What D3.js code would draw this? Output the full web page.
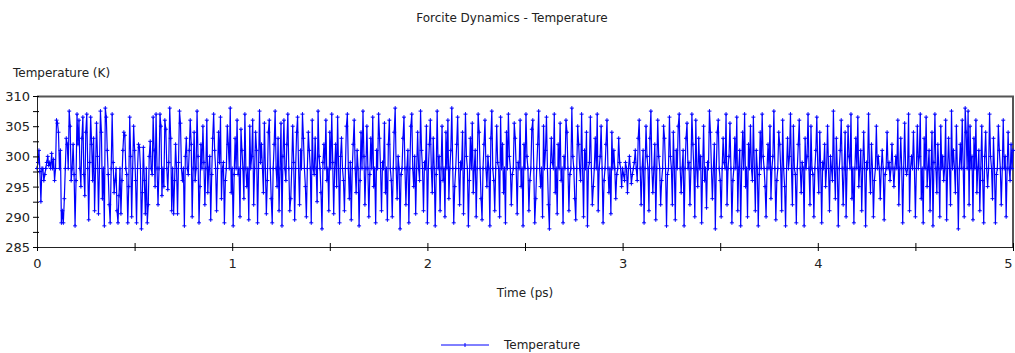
<!DOCTYPE html>
<html>
<head>
<meta charset="utf-8">
<script src="https://cdn.jsdelivr.net/npm/d3@7"></script>
<style>
  body { margin: 0; background: #fff; }
  text { font-family: "DejaVu Sans", Verdana, sans-serif; fill: #222; }
</style>
</head>
<body>
<svg id="chart" width="1015" height="353"></svg>
<script>
const temperature = [
  298, 299, 301, 297.5, 292.5, 298, 298, 296, 297, 298, 299, 300, 298.5, 299, 298, 300.5, 298, 299.5, 296, 298, 306, 305.5, 304, 298, 301,
  289, 291, 289, 293, 298, 303, 302, 298, 307.5, 305, 296, 298, 302, 297, 288.5, 296, 307, 302, 306, 298, 295, 303, 306.5, 297, 293.5,
  304, 307, 298, 289.5, 299, 306.5, 302, 296, 303, 291, 298, 305.5, 300, 290.5, 298, 307.5, 304, 293, 298, 288.5, 308, 306.5, 301, 297, 292,
  289, 298, 307, 299, 294, 296, 298, 291, 289, 293.5, 298, 290.5, 296, 301, 304, 303.5, 298, 297, 289, 295, 306.5, 300, 290, 298, 305,
  301, 296, 289, 298, 302, 301.5, 298, 288, 294, 301.5, 296, 290.5, 298, 289, 292, 300, 302.5, 298, 297, 306.5, 301, 295, 307, 298, 292,
  298, 307, 305, 293.5, 298, 295, 306, 304.5, 298, 294.5, 299, 308, 303, 291, 298, 290.5, 296, 302, 298, 290.5, 299, 307.5, 305.5, 298, 296,
  298, 288.5, 300, 303, 298, 297, 301, 306, 302, 290, 298, 304, 296, 298, 307.5, 300, 289, 295, 302, 298, 305, 299, 292, 298, 306,
  294, 298, 300, 289.5, 297, 303, 307, 301, 298, 291, 298, 304, 299, 306.5, 293, 298, 299, 289, 296, 298, 305, 302, 298, 308, 294,
  298, 288.5, 297, 303, 298, 306, 297, 298, 290, 304.5, 301, 298, 293, 307, 298, 295, 298, 289.5, 305, 298, 300, 306, 292, 298, 304,
  301, 289, 298, 307.5, 299, 302, 298, 294, 305.5, 298, 290.5, 296, 304, 306, 298, 293, 289, 298, 302, 307.5, 298, 295, 303, 291, 298,
  305.5, 288.5, 300, 306, 298, 296, 302, 307, 298, 291, 293, 298, 305, 299, 289.5, 298, 304, 306.5, 298, 292, 301, 298, 307, 303, 298,
  295, 290, 298, 304, 301, 298, 289, 306, 298, 297, 303, 298, 292.5, 307.5, 300, 298, 294, 288, 299, 302, 298, 306, 296, 298, 291,
  304, 298, 307, 299, 290.5, 298, 302, 295, 306.5, 298, 289, 300, 303, 298, 296, 291, 298, 305, 307, 298, 293, 299, 289.5, 298, 302,
  306, 298, 294, 301, 298, 288.5, 296, 304, 298, 307.5, 300, 292, 298, 305, 298, 290, 297, 303, 298, 306.5, 295, 298, 289, 301, 298,
  307, 303, 298, 291, 299, 298, 305.5, 294, 298, 289.5, 302, 306, 298, 296, 290, 298, 304, 308, 298, 293, 300, 298, 288, 297, 298,
  303, 306.5, 298, 292, 298, 301, 289, 298, 305, 307, 298, 295, 300, 290.5, 298, 304, 298, 296, 307.5, 301, 298, 291, 299, 298, 305,
  289, 298, 302, 306, 298, 294, 303, 298, 288.5, 297, 307.5, 298, 300, 291, 298, 305, 296, 298, 290, 304, 298, 306, 293, 298, 301,
  308, 298, 289, 295, 298, 302, 306.5, 298, 292, 299, 298, 304, 290.5, 298, 307, 300, 298, 288.5, 296, 303, 298, 305.5, 294, 298, 301,
  290, 298, 307, 304, 298, 293, 289.5, 298, 302, 306, 298, 295, 300, 298, 288.5, 303, 307.5, 298, 296, 291, 298, 305, 299, 298, 290,
  306.5, 298, 302, 294, 298, 289, 304, 298, 307, 300, 298, 292, 297, 298, 305.5, 303, 298, 290.5, 299, 298, 306, 295, 298, 288.5, 302,
  298, 307, 300, 298, 291, 296, 298, 304.5, 306, 298, 289, 293, 298, 302, 307.5, 298, 295, 298, 290, 305, 298, 301, 306.5, 298, 292,
  288, 298, 303, 299, 298, 307, 294, 298, 290.5, 302, 298, 305.5, 296, 298, 289, 300, 298, 306, 304, 298, 291, 297, 298, 308, 300,
  298, 293, 289.5, 298, 305, 302, 298, 296, 307, 298, 290, 301, 298, 304, 288.5, 298, 299, 306.5, 298, 292, 295, 298, 303, 298, 307,
  291, 298, 300, 305, 298, 289, 296, 298, 302, 306, 298, 294, 298, 290.5, 304, 298, 301, 298, 293, 297, 298, 303, 299, 298, 295,
  298, 297, 296, 299, 298, 294, 298, 300, 298, 295.5, 297, 298, 299, 301, 298, 296, 303, 306, 298, 292, 298, 301, 289, 298, 305,
  300, 298, 291, 303, 307.5, 298, 294, 298, 302, 289.5, 298, 306, 300, 298, 292, 296, 298, 305, 303, 298, 288.5, 297, 298, 306.5, 300,
  298, 292, 304, 298, 289.5, 301, 298, 305, 307, 298, 294, 298, 301, 288.5, 298, 303, 305.5, 298, 299, 292, 298, 307, 302, 298, 290,
  306, 298, 295, 303, 298, 300, 289, 298, 305, 296, 298, 291.5, 299, 298, 307.5, 304, 298, 293, 298, 302, 288, 298, 304, 306, 298,
  296, 290, 298, 303, 299, 298, 307, 292, 298, 300, 305.5, 298, 289, 296, 298, 303, 298, 306.5, 291, 298, 301, 288.5, 298, 304, 298,
  307, 295, 298, 290, 302, 298, 305, 298, 296, 306.5, 298, 291, 301, 298, 288.5, 297, 304, 298, 307, 300, 298, 295, 290, 298, 302,
  298, 305, 293, 298, 300, 307.5, 298, 289.5, 296, 298, 304, 302, 298, 291, 306, 298, 295, 288.5, 298, 303, 298, 300, 307, 298, 292,
  305, 298, 297, 289, 298, 302, 306, 298, 294, 299, 298, 288.5, 303, 298, 300, 307, 298, 292, 305, 298, 297, 290, 298, 301, 306.5,
  298, 294, 304, 298, 289, 299, 298, 302, 295, 298, 305, 298, 291, 300, 298, 296, 307.5, 298, 293, 303, 298, 288.5, 298, 301, 306,
  298, 292, 298, 304, 290, 298, 305, 300, 298, 307, 293, 298, 289, 298, 303, 298, 306.5, 295, 298, 301, 291, 298, 304, 298, 288.5,
  299, 298, 307, 298, 294, 302, 298, 290, 296, 298, 305, 298, 300, 298, 293, 298, 301, 298, 289.5, 297, 298, 304, 298, 299, 296,
  298, 302, 298, 295, 298, 300, 298, 306, 292, 298, 303, 298, 289, 298, 305.5, 298, 297, 298, 307, 291, 298, 300, 298, 304, 298,
  290, 298, 305, 298, 300, 307, 293, 298, 289, 303, 298, 306.5, 295, 298, 301, 291, 298, 304, 288.5, 299, 307, 298, 294, 302, 298,
  290, 305, 298, 300, 296, 298, 306, 289.5, 298, 303, 298, 292, 307.5, 298, 301, 298, 294, 305, 298, 288, 298, 302, 298, 306, 298,
  290, 308, 304, 298, 307.5, 292, 305, 298, 300, 289.5, 303, 298, 306, 294, 298, 301, 291, 298, 305, 296, 289, 300, 304, 298, 295,
  298, 307, 300, 298, 293, 303, 298, 289, 297, 298, 305, 301, 298, 292, 298, 306, 298, 300, 290, 298, 304, 298, 296, 302, 298,
  301
];
const timeStep = 0.005; // ps between frames

const xTicks = [0, 1, 2, 3, 4, 5];
const xMinorTicks = [0.5, 1.5, 2.5, 3.5, 4.5];
const yTicks = [285, 290, 295, 300, 305, 310];
const yMinorTicks = [287.5, 292.5, 297.5, 302.5, 307.5];

const chartTitle = "Forcite Dynamics - Temperature";
const yTitle = "Temperature (K)";
const xTitle = "Time (ps)";
const seriesName = "Temperature";

const MARGIN = {TOP: 96, RIGHT: 2, BOTTOM: 106, LEFT: 37};
const WIDTH = 1015 - MARGIN.LEFT - MARGIN.RIGHT;
const HEIGHT = 353 - MARGIN.TOP - MARGIN.BOTTOM;
const BLUE = "#0000ff";

const points = temperature.map((v, i) => ({t: i * timeStep, v: v}));

const svg = d3.select("#chart");

// Title and axis titles
svg.append("text")
  .attr("x", 512).attr("y", 22)
  .attr("text-anchor", "middle")
  .style("font-size", "12px")
  .text(chartTitle);

svg.append("text")
  .attr("x", 13).attr("y", 77)
  .style("font-size", "12px")
  .text(yTitle);

svg.append("text")
  .attr("x", 525).attr("y", 297)
  .attr("text-anchor", "middle")
  .style("font-size", "12px")
  .text(xTitle);

const g = svg.append("g")
  .attr("transform", "translate(" + MARGIN.LEFT + "," + MARGIN.TOP + ")");

const xScale = d3.scaleLinear().domain([0, 5]).range([0, WIDTH]);
const yScale = d3.scaleLinear().domain([285, 310]).range([HEIGHT, 0]);

// Frame on top and right
g.append("path")
  .attr("d", "M0,0.5H" + WIDTH + "V" + HEIGHT)
  .attr("fill", "none")
  .attr("stroke", "#555")
  .attr("stroke-width", 2);

// Plot line
const valueline = d3.line()
  .x((d) => xScale(d.t))
  .y((d) => yScale(d.v));

g.append("path")
  .datum(points)
  .attr("fill", "none")
  .attr("stroke", BLUE)
  .attr("stroke-width", 1.2)
  .attr("d", valueline);

// Small cross markers on every point
const cross = (x, y) => "M" + (x - 2) + "," + y + "H" + (x + 2) + "M" + x + "," + (y - 2) + "V" + (y + 2);
g.append("path")
  .attr("fill", "none")
  .attr("stroke", BLUE)
  .attr("stroke-width", 1)
  .attr("d", points.map((d) => cross(xScale(d.t), yScale(d.v))).join(""));

// x axis
const xAxis = g.append("g")
  .attr("transform", "translate(0," + HEIGHT + ")")
  .call(d3.axisBottom(xScale).tickValues(xTicks).tickFormat(d3.format("d")).tickSize(4).tickPadding(8));
g.append("g")
  .attr("transform", "translate(0," + HEIGHT + ")")
  .call(d3.axisBottom(xScale).tickValues(xMinorTicks).tickFormat("").tickSize(4))
  .call((a) => a.select(".domain").remove());
g.selectAll(".tick line").attr("y1", -4);
// keep the last label inside the window
xAxis.selectAll(".tick text").filter((d) => d === 5).attr("text-anchor", "end").attr("dx", "-1");

// y axis
const yAxis = g.append("g")
  .call(d3.axisLeft(yScale).tickValues(yTicks).tickSize(4).tickPadding(3));
g.append("g")
  .call(d3.axisLeft(yScale).tickValues(yMinorTicks).tickFormat("").tickSize(4))
  .call((a) => a.select(".domain").remove())
  .selectAll(".tick line").attr("x1", 2);
yAxis.selectAll(".tick line").attr("x1", 2).attr("x2", -4);

g.selectAll(".domain").attr("stroke", "#222");
g.selectAll(".tick text").style("font-size", "13px").attr("fill", "#222");
yAxis.selectAll(".tick text").attr("dy", "0.35em");

// Legend
const legend = svg.append("g").attr("transform", "translate(441,345)");
legend.append("line")
  .attr("x1", 0).attr("x2", 48).attr("y1", 0).attr("y2", 0)
  .attr("stroke", BLUE).attr("stroke-width", 1);
legend.append("line")
  .attr("x1", 24).attr("x2", 24).attr("y1", -2).attr("y2", 2)
  .attr("stroke", BLUE).attr("stroke-width", 1);
legend.append("text")
  .attr("x", 63).attr("y", 0).attr("dy", "0.35em")
  .style("font-size", "12px")
  .text(seriesName);
</script>
</body>
</html>
